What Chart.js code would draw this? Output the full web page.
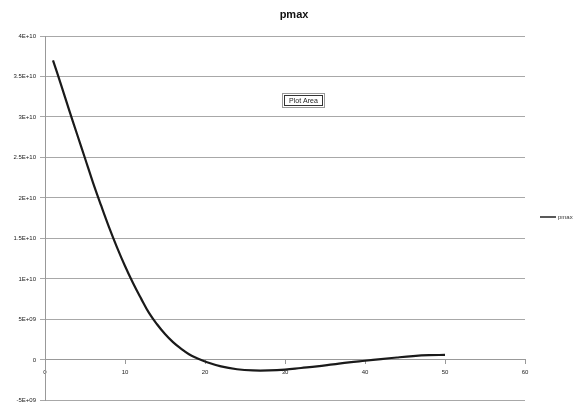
<!DOCTYPE html>
<html>
<head>
<meta charset="utf-8">
<script src="https://cdn.jsdelivr.net/npm/chart.js@4.4.0/dist/chart.umd.min.js"></script>
<style>
  html, body { margin: 0; padding: 0; background: #fff; }
  #wrap { width: 579px; height: 408px; }
</style>
</head>
<body>
<div id="wrap"><canvas id="myChart" width="579" height="408"></canvas></div>
<script>
// valeurs
const xValues = [1, 2, 3, 4, 5, 6, 7, 8, 9, 10, 11, 12, 13, 14, 15, 16, 17, 18, 19, 20, 22, 24, 26, 28, 30, 32, 34, 36, 38, 40, 42, 44, 46, 48, 50];
const pmaxValues = [3.70e10, 3.40e10, 3.09e10, 2.79e10, 2.49e10, 2.19e10, 1.91e10, 1.64e10, 1.39e10, 1.16e10,
    0.95e10, 0.76e10, 0.58e10, 0.44e10, 0.32e10, 0.22e10, 0.14e10, 0.07e10, 0.02e10, -0.02e10,
    -0.08e10, -0.115e10, -0.13e10, -0.13e10, -0.12e10, -0.10e10, -0.08e10, -0.055e10, -0.03e10, -0.01e10,
    0.01e10, 0.03e10, 0.047e10, 0.058e10, 0.062e10];
const xTicks = [0, 10, 20, 30, 40, 50, 60];
const yTicks = [-5e9, 0, 5e9, 1e10, 1.5e10, 2e10, 2.5e10, 3e10, 3.5e10, 4e10];
const seriesName = 'pmax';
const chartTitle = 'pmax';
const hoverLabel = 'Plot Area';

// format Excel : 3.5E+10, 5E+09
function excelSci(v) {
    if (v === 0) return '0';
    const exp = Math.floor(Math.log10(Math.abs(v)) + 1e-9);
    let mant = v / Math.pow(10, exp);
    mant = Math.round(mant * 100) / 100;
    const sign = exp < 0 ? '-' : '+';
    const e = String(Math.abs(exp)).padStart(2, '0');
    return mant + 'E' + sign + e;
}

const decor = {
    id: 'decor',
    afterDraw(chart) {
        const ctx = chart.ctx;
        ctx.save();
        // titre
        ctx.fillStyle = '#111';
        ctx.font = 'bold 11px "Liberation Sans", Arial, sans-serif';
        ctx.textAlign = 'center';
        ctx.textBaseline = 'middle';
        ctx.fillText(chartTitle, 294, 15);

        // légende
        ctx.strokeStyle = '#222';
        ctx.lineWidth = 1.5;
        ctx.beginPath();
        ctx.moveTo(540, 217);
        ctx.lineTo(556, 217);
        ctx.stroke();
        ctx.font = '6px "Liberation Sans", Arial, sans-serif';
        ctx.textAlign = 'left';
        ctx.fillStyle = '#333';
        ctx.fillText(seriesName, 558, 217);

        // étiquette "Plot Area"
        ctx.fillStyle = '#fff';
        ctx.fillRect(283, 94, 41, 13);
        ctx.strokeStyle = '#999';
        ctx.lineWidth = 1;
        ctx.strokeRect(282.5, 93.5, 42, 14);
        ctx.strokeStyle = '#333';
        ctx.strokeRect(284.5, 95.5, 38, 10);
        ctx.fillStyle = '#222';
        ctx.font = '7px "Liberation Sans", Arial, sans-serif';
        ctx.textAlign = 'center';
        ctx.fillText(hoverLabel, 303.5, 101);
        ctx.restore();
    }
};

const ctx = document.getElementById('myChart').getContext('2d');
new Chart(ctx, {
    type: 'line',
    data: {
        datasets: [{
            label: seriesName,
            data: xValues.map((x, i) => ({ x: x, y: pmaxValues[i] })),
            borderColor: '#1a1a1a',
            borderWidth: 2.2,
            pointRadius: 0,
            fill: false,
            tension: 0.4
        }]
    },
    options: {
        responsive: false,
        animation: false,
        layout: { padding: { top: 36, right: 54, bottom: 7, left: 0 } },
        plugins: {
            legend: { display: false },
            title: { display: false },
            tooltip: { enabled: false }
        },
        scales: {
            x: {
                type: 'linear',
                position: { y: 0 },
                min: 0,
                max: 60,
                afterBuildTicks: (scale) => { scale.ticks = xTicks.map(v => ({ value: v })); },
                ticks: {
                    color: '#222',
                    font: { size: 6, family: '"Liberation Sans", Arial, sans-serif' },
                    padding: 5,
                    maxRotation: 0
                },
                grid: { drawOnChartArea: false, drawTicks: true, tickLength: 4, color: '#999' },
                border: { color: '#999', width: 1 }
            },
            y: {
                min: -5e9,
                max: 4e10,
                afterBuildTicks: (scale) => { scale.ticks = yTicks.map(v => ({ value: v })); },
                afterFit: (scale) => { scale.width = 45; },
                ticks: {
                    color: '#222',
                    font: { size: 6, family: '"Liberation Sans", Arial, sans-serif' },
                    padding: 4,
                    callback: (v) => excelSci(v)
                },
                grid: { color: '#a8a8a8', lineWidth: 1, tickLength: 5 },
                border: { color: '#999', width: 1 }
            }
        }
    },
    plugins: [decor]
});
</script>
</body>
</html>
